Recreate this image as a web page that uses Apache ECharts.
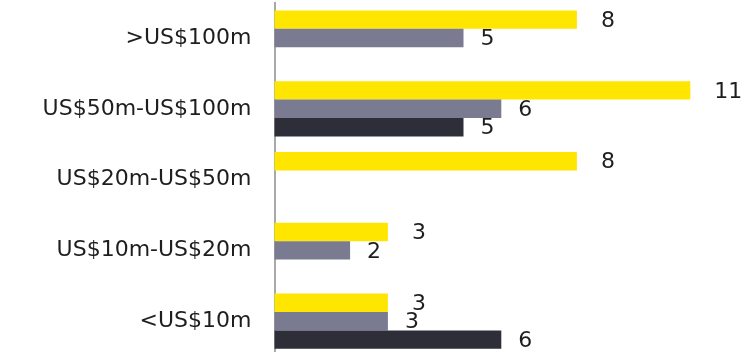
<!DOCTYPE html>
<html>
<head>
  <meta charset="utf-8">
  <style>
    html, body { margin: 0; padding: 0; width: 100%; height: 100%; overflow: hidden; background: #fff; }
  </style>
  <script src="https://cdn.jsdelivr.net/npm/echarts@6/dist/echarts.min.js"></script>
</head>
<body>
  <div id="container" style="width: 755px; height: 352px;"></div>
  <script>
    var categories = ['>US$100m', 'US$50m-US$100m', 'US$20m-US$50m', 'US$10m-US$20m', '<US$10m'];
    var yellowValues = [8, 11, 8, 3, 3];
    var greyValues = [5, 6, '-', 2, 3];
    var darkValues = ['-', 5, '-', '-', 6];

    var myChart = echarts.init(document.getElementById('container'), null, { renderer: 'canvas' });

    function barSeries(data, color, dist) {
      return {
        type: 'bar',
        data: data,
        barWidth: 18.4,
        barGap: '0%',
        itemStyle: { color: color },
        label: {
          show: true,
          position: 'right',
          distance: dist,
          offset: [0, 1.5],
          color: '#1e1e1e',
          fontSize: 22,
          fontFamily: 'DejaVu Sans'
        }
      };
    }

    var option = {
      animation: false,
      grid: {
        left: 274.5, width: 453.6, top: 2.6, height: 354,
        outerBoundsMode: 'none'
      },
      xAxis: {
        type: 'value',
        min: 0,
        max: 12,
        show: false
      },
      yAxis: {
        type: 'category',
        data: categories,
        inverse: true,
        axisLine: { show: true, lineStyle: { color: '#8c8c8c', width: 1.5 } },
        axisTick: { show: false },
        axisLabel: {
          color: '#1e1e1e',
          fontSize: 22,
          fontFamily: 'DejaVu Sans',
          margin: 23
        }
      },
      series: [
        barSeries(yellowValues, '#ffe600', 24),
        barSeries(greyValues, '#7a7a91', 17),
        barSeries(darkValues, '#2e2e38', 17)
      ]
    };

    myChart.setOption(option);
    window.addEventListener('resize', myChart.resize);
  </script>
</body>
</html>
